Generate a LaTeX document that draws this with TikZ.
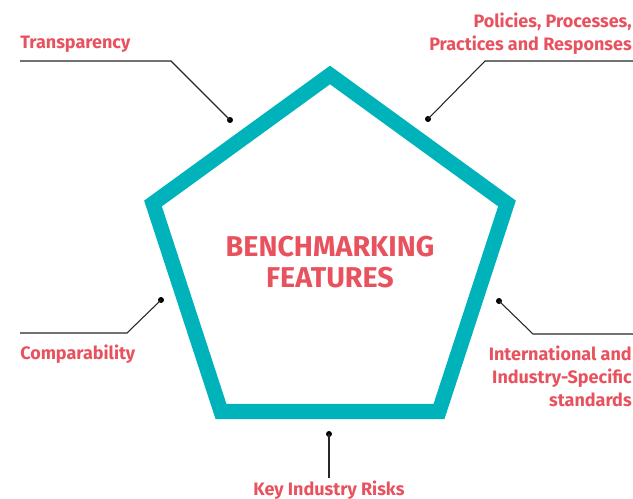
\documentclass[tikz,border=0pt]{standalone}
\usepackage{fontspec}
\setmainfont{Fira Sans}
\definecolor{teal}{HTML}{00B3BB}
\definecolor{lab}{HTML}{E8525E}
\begin{document}
\begin{tikzpicture}[x=0.75pt,y=-0.75pt,
  lbl/.style={text=lab,font=\fontsize{13.5}{16.8}\selectfont\bfseries,inner sep=0pt},
  ttl/.style={text=lab,font=\fontsize{21.5}{23.3}\selectfont\bfseries,align=center,inner sep=0pt},
  lead/.style={draw=black!85,line width=0.8pt},
  dotm/.style={fill=black,circle,inner sep=0pt,minimum size=4.5pt}]
\useasboundingbox (0,0) rectangle (633,499);
% pentagon
\draw[teal,line width=11.3pt,line join=miter]
  (330,75) -- (507,203.5) -- (439,411.5) -- (221,411.5) -- (153,203.5) -- cycle;
\node[ttl,anchor=base] (title) at (330,288) {BENCHMARKING\\FEATURES};
% Transparency
\node[lbl,anchor=base west] (t1) at (20,49) {Transparency};
\coordinate (t1a) at (20,61);
\coordinate (t1b) at (171,61);
\node[dotm] (d1) at (230,120) {};
\draw[lead] (t1a) -- (t1b) -- (d1.center);
% Policies
\node[lbl,anchor=north east,align=right] (t2) at (632,13) {Policies, Processes,\\Practices and Responses};
\coordinate (t2a) at (633,61);
\coordinate (t2b) at (485,61);
\node[dotm] (d2) at (428,119) {};
\draw[lead] (t2a) -- (t2b) -- (d2.center);
% Comparability
\node[lbl,anchor=base west] (t3) at (20,360) {Comparability};
\coordinate (t3a) at (20,333);
\coordinate (t3b) at (127,333);
\node[dotm] (d3) at (161,300) {};
\draw[lead] (t3a) -- (t3b) -- (d3.center);
% International
\node[lbl,anchor=north east,align=right,font=\fontsize{13.5}{17.3}\selectfont\bfseries] (t4) at (632,346) {International and\\Industry-Specific\\standards};
\coordinate (t4a) at (633,334);
\coordinate (t4b) at (533,334);
\node[dotm] (d4) at (499,301) {};
\draw[lead] (t4a) -- (t4b) -- (d4.center);
% Key Industry Risks
\node[lbl,anchor=base] (t5) at (329,496) {Key Industry Risks};
\coordinate (t5a) at (329,478);
\node[dotm] (d5) at (329,434) {};
\draw[lead] (t5a) -- (d5.center);
\end{tikzpicture}
\end{document}
